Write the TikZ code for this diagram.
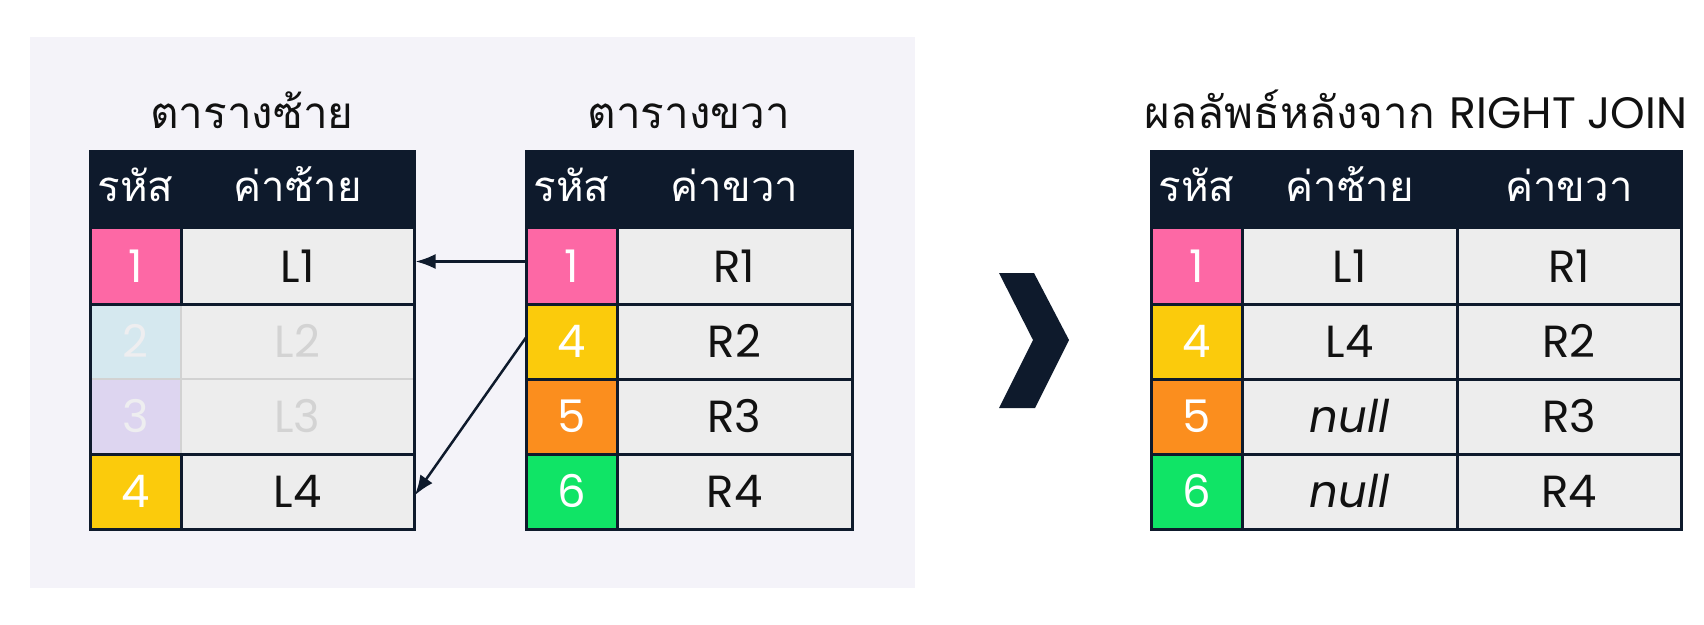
\documentclass[tikz,border=0pt]{standalone}
\usepackage{fontspec}
\setmainfont{Poppins}
\newfontfamily\thai[Script=Thai]{Loma}
\usetikzlibrary{arrows.meta}
\definecolor{panel}{HTML}{F4F3F9}
\definecolor{navy}{HTML}{0E1A2C}
\definecolor{cellgray}{HTML}{EDEDED}
\definecolor{cpink}{HTML}{FD68A5}
\definecolor{cyellow}{HTML}{FBCB0C}
\definecolor{corange}{HTML}{FB8E1E}
\definecolor{cgreen}{HTML}{10E466}
\definecolor{fadeblue}{HTML}{D5E8EF}
\definecolor{fadelav}{HTML}{DDD5F0}
\definecolor{fadeidtext}{HTML}{EEEEF0}
\definecolor{fadevaltext}{HTML}{D3D3D3}
\definecolor{fadeline}{HTML}{D2D2D2}
\definecolor{ink}{HTML}{111111}
\begin{document}
\begin{tikzpicture}[x=1pt,y=-1pt,
  cellbase/.style={inner sep=0pt, outer sep=0pt, minimum height=75pt,
    font=\fontsize{45}{52}\selectfont, text height=31pt, text depth=0pt},
  idcell/.style={cellbase, minimum width=91pt, fill=#1, text=white},
  valcell/.style={cellbase, minimum width=#1, fill=cellgray, text=ink},
  hdr/.style={inner sep=0pt, outer sep=0pt, minimum height=78pt, minimum width=#1, fill=navy},
  hdrtext/.style={inner sep=0pt, text=white, font=\thai\fontsize{42}{48}\selectfont,
    text height=23pt, text depth=0pt},
  title/.style={inner sep=0pt, anchor=base, text=ink, font=\thai\fontsize{44}{50}\selectfont},
  grid/.style={draw=navy, line width=3pt},
  fgrid/.style={draw=fadeline, line width=2.5pt},
  link/.style={draw=navy, line width=2.5pt, -{Latex[length=20pt,width=15pt]}, shorten >=1.5pt}
]
\useasboundingbox[fill=white] (0,0) rectangle (1704,624);
\fill[panel] (30,37) rectangle (915,588);

% ---------- left table ----------
\node[title] (tl) at (252,128) {ตารางซ้าย};
\node[hdr=324] (lh) at (252,190) {};
\node[hdrtext] (lhid) at (135.5,190) {รหัส};
\node[hdrtext] (lhv) at (297.5,190) {ค่าซ้าย};
\node[idcell=cpink] (l1id) at (135.5,266.5) {1};
\node[valcell=233] (l1v) at (297.5,266.5) {L1};
\node[idcell=fadeblue, text=fadeidtext] (l2id) at (135.5,341.5) {2};
\node[valcell=233, text=fadevaltext] (l2v) at (297.5,341.5) {L2};
\node[idcell=fadelav, text=fadeidtext] (l3id) at (135.5,416.5) {3};
\node[valcell=233, text=fadevaltext] (l3v) at (297.5,416.5) {L3};
\node[idcell=cyellow] (l4id) at (135.5,491.5) {4};
\node[valcell=233] (l4v) at (297.5,491.5) {L4};
\draw[fgrid] (l2id.south west) -- (l2v.south east);
\draw[fgrid] (l2id.north east) -- (l3id.south east);
\draw[grid] (l1id.south west) -- (l1v.south east);
\draw[grid] (l3id.south west) -- (l3v.south east);
\draw[grid] (l1id.north east) -- (l1id.south east);
\draw[grid] (l4id.north east) -- (l4id.south east);
\draw[grid] (lh.north west) rectangle (l4v.south east);

% ---------- right table ----------
\node[title] (tr) at (689,128) {ตารางขวา};
\node[hdr=326] (rh) at (689,190) {};
\node[hdrtext] (rhid) at (571.5,190) {รหัส};
\node[hdrtext] (rhv) at (734.5,190) {ค่าขวา};
\node[idcell=cpink] (r1id) at (571.5,266.5) {1};
\node[valcell=235] (r1v) at (734.5,266.5) {R1};
\node[idcell=cyellow] (r2id) at (571.5,341.5) {4};
\node[valcell=235] (r2v) at (734.5,341.5) {R2};
\node[idcell=corange] (r3id) at (571.5,416.5) {5};
\node[valcell=235] (r3v) at (734.5,416.5) {R3};
\node[idcell=cgreen] (r4id) at (571.5,491.5) {6};
\node[valcell=235] (r4v) at (734.5,491.5) {R4};
\draw[grid] (r1id.south west) -- (r1v.south east);
\draw[grid] (r2id.south west) -- (r2v.south east);
\draw[grid] (r3id.south west) -- (r3v.south east);
\draw[grid] (r1id.north east) -- (r4id.south east);
\draw[grid] (rh.north west) rectangle (r4v.south east);

% ---------- connectors ----------
\draw[link] ([yshift=5pt]r1id.west) -- ([yshift=5pt]l1v.east);
\draw[link] ([yshift=4pt]r2id.west) -- ([yshift=-5pt]l4v.east);

% ---------- chevron ----------
\fill[navy] (999,273) -- (1034,273) -- (1069,340) -- (1035,408) -- (999,408) -- (1033,340) -- cycle;

% ---------- result table ----------
\node[title] (tx) at (1416,128) {ผลลัพธ์หลังจาก {\rmfamily RIGHT JOIN}};
\node[hdr=530] (xh) at (1416,190) {};
\node[hdrtext] (xhid) at (1196.5,190) {รหัส};
\node[hdrtext] (xhl) at (1349.5,190) {ค่าซ้าย};
\node[hdrtext] (xhr) at (1569,190) {ค่าขวา};
\node[idcell=cpink] (x1id) at (1196.5,266.5) {1};
\node[valcell=215] (x1l) at (1349.5,266.5) {L1};
\node[valcell=224] (x1r) at (1569,266.5) {R1};
\node[idcell=cyellow] (x2id) at (1196.5,341.5) {4};
\node[valcell=215] (x2l) at (1349.5,341.5) {L4};
\node[valcell=224] (x2r) at (1569,341.5) {R2};
\node[idcell=corange] (x3id) at (1196.5,416.5) {5};
\node[valcell=215] (x3l) at (1349.5,416.5) {\itshape null};
\node[valcell=224] (x3r) at (1569,416.5) {R3};
\node[idcell=cgreen] (x4id) at (1196.5,491.5) {6};
\node[valcell=215] (x4l) at (1349.5,491.5) {\itshape null};
\node[valcell=224] (x4r) at (1569,491.5) {R4};
\draw[grid] (x1id.south west) -- (x1r.south east);
\draw[grid] (x2id.south west) -- (x2r.south east);
\draw[grid] (x3id.south west) -- (x3r.south east);
\draw[grid] (x1id.north east) -- (x4id.south east);
\draw[grid] (x1l.north east) -- (x4l.south east);
\draw[grid] (xh.north west) rectangle (x4r.south east);
\end{tikzpicture}
\end{document}
